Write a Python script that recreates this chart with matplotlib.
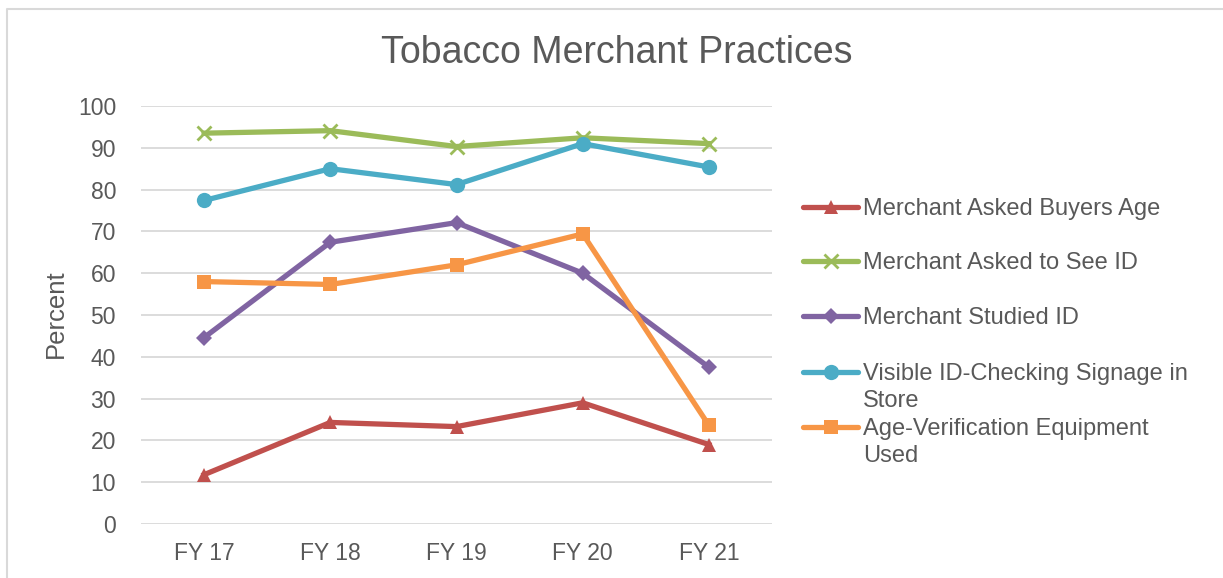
import matplotlib.pyplot as plt
from matplotlib.lines import Line2D

plt.rcParams["font.family"] = ["Liberation Sans", "DejaVu Sans"]

years = ["FY 17", "FY 18", "FY 19", "FY 20", "FY 21"]

asked_age = [11.8, 24.3, 23.3, 29.0, 19.0]
asked_id = [93.5, 94.1, 90.3, 92.4, 91.0]
studied_id = [44.6, 67.4, 72.1, 60.0, 37.5]
signage = [77.4, 85.0, 81.2, 91.0, 85.4]
equipment = [58.0, 57.3, 62.0, 69.4, 23.6]

labels = [
    "Merchant Asked Buyers Age",
    "Merchant Asked to See ID",
    "Merchant Studied ID",
    "Visible ID-Checking Signage in\nStore",
    "Age-Verification Equipment\nUsed",
]
series = [asked_age, asked_id, studied_id, signage, equipment]
colors = ["#C0504D", "#9BBB59", "#8064A2", "#4BACC6", "#F79646"]
markers = ["^", "x", "D", "o", "s"]
msizes = [10, 10, 8, 11, 10]

TXT = "#595959"
W, H = 1223, 578
FS = 17

fig = plt.figure(figsize=(W / 100, H / 100), dpi=100)
ax = fig.add_axes([141 / W, 1 - 524 / H, (772 - 141) / W, (524 - 106) / H])

x = list(range(len(years)))
for vals, c, m, ms in zip(series, colors, markers, msizes):
    ax.plot(x, vals, color=c, lw=3.8, marker=m, ms=ms,
            mew=2 if m == "x" else 0, mec=c, mfc=c, solid_joinstyle="round")

ax.set_xlim(-0.5, len(years) - 0.5)
ax.set_ylim(0, 100)
ax.set_yticks(range(0, 101, 10))
ax.set_xticks(x)
ax.set_xticklabels(years)
ax.grid(axis="y", color="#D9D9D9", lw=1.3)
ax.set_axisbelow(True)
for s in ax.spines.values():
    s.set_visible(False)
ax.tick_params(length=0, labelsize=16.5, labelcolor=TXT)
ax.tick_params(axis="y", pad=18)
ax.tick_params(axis="x", pad=13)

fig.text(56 / W, 1 - 314 / H, "Percent", fontsize=18.5, color=TXT,
         rotation=90, ha="center", va="center")
fig.text(617 / W, 1 - 63 / H, "Tobacco Merchant Practices", fontsize=27,
         color=TXT, ha="center", va="baseline")

# hand-placed legend so the wrapped labels keep their marker on the first line
cap = 0.716 * FS * 100 / 72 / 2
leg_y = [207, 261, 316, 372, 427]
for ly, lab, c, m, ms in zip(leg_y, labels, colors, markers, msizes):
    yy = 1 - ly / H
    fig.add_artist(Line2D([803 / W, 858 / W], [yy, yy], color=c, lw=3.8,
                          solid_capstyle="round"))
    fig.add_artist(Line2D([830.5 / W], [yy], marker=m, ms=ms, color=c,
                          mew=2 if m == "x" else 0, mec=c, mfc=c))
    for i, part in enumerate(lab.split("\n")):
        fig.text(863 / W, 1 - (ly + cap + 27 * i) / H, part, fontsize=FS,
                 color=TXT, ha="left", va="baseline")

# chart frame (only the left and top edges fall inside the image)
fig.add_artist(Line2D([7 / W, 7 / W, 1], [0, 1 - 9 / H, 1 - 9 / H],
                      color="#D9D9D9", lw=1.5))

fig.savefig("out.png", dpi=100)
